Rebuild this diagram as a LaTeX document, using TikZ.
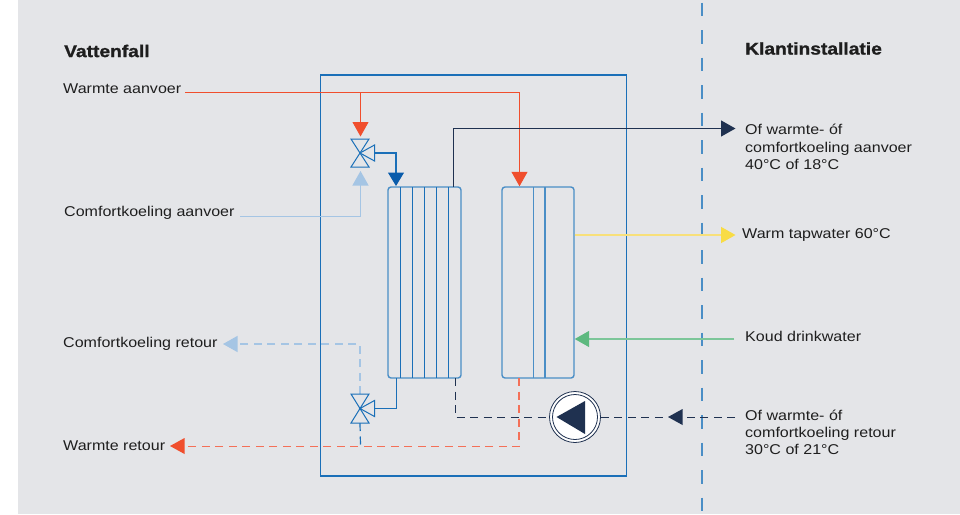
\documentclass[tikz,border=0pt]{standalone}
\usepackage{fontspec}
\setmainfont{Liberation Sans}
\newfontfamily\bodyfont[FakeStretch=1.13]{Liberation Sans}
\newfontfamily\headfont[FakeStretch=1.13,FakeBold=1.3]{Liberation Sans Bold}
\usetikzlibrary{arrows.meta}
\definecolor{bgc}{HTML}{E4E5E8}
\definecolor{vblue}{HTML}{1A6FB8}
\definecolor{hxblue}{HTML}{4A8EC6}
\definecolor{deepblue}{HTML}{0A5CAB}
\definecolor{lblue}{HTML}{A5C5E4}
\definecolor{vred}{HTML}{F04E2D}
\definecolor{dashred}{HTML}{F47058}
\definecolor{navy}{HTML}{1F3150}
\definecolor{vyellow}{HTML}{F8E07A}
\definecolor{tipyellow}{HTML}{F8DC45}
\definecolor{vgreen}{HTML}{7CC699}
\definecolor{tipgreen}{HTML}{5DB97F}
\definecolor{txt}{HTML}{1E1E1E}
\tikzset{
  x=1pt,y=-1pt,
  lab/.style={inner sep=0pt,anchor=west,align=left,text=txt,font=\bodyfont\fontsize{14.2}{17.2}\selectfont},
  head/.style={inner sep=0pt,anchor=west,text=txt,font=\headfont\fontsize{17}{20}\selectfont},
  conn/.style={line width=1.1pt},
  tip/.style={-{Triangle[length=14.5pt,width=16pt]}},
  dsh/.style={line width=1.2pt,dash pattern=on 8pt off 5.5pt},
  hx/.style={draw=hxblue,line width=1.4pt,rounded corners=3pt,minimum width=#1,inner sep=0pt,minimum height=191pt},
  valve/.style={draw=vblue,line width=1pt,fill=bgc,line join=miter},
}
\begin{document}
\begin{tikzpicture}
\useasboundingbox (0,0) rectangle (960,514);
\fill[bgc] (18,0) rectangle (960,514);
% cabinet
\node[draw=vblue,line width=1.1pt,inner sep=0pt,minimum width=306.5pt,minimum height=401pt] (kast) at (473.5,275.5) {};
% divider
\coordinate (divtop) at (702,2.5);
\coordinate (divbot) at (702,514);
\draw[hxblue,line width=1.5pt,dash pattern=on 13.5pt off 14pt] (divtop) -- (divbot);
% labels
\node[head] (vat) at (64,51) {Vattenfall};
\node[head] (klant) at (745,48.5) {Klantinstallatie};
\node[lab] (wa) at (63,89) {Warmte aanvoer};
\node[lab] (ca) at (64,213) {Comfortkoeling aanvoer};
\node[lab] (cr) at (63,344) {Comfortkoeling retour};
\node[lab] (wr) at (63,446) {Warmte retour};
\node[lab] (oa) at (745,147) {Of warmte- óf\\comfortkoeling aanvoer\\40°C of 18°C};
\node[lab] (tap) at (742,235) {Warm tapwater 60°C};
\node[lab] (koud) at (745,336) {Koud drinkwater};
\node[lab] (or) at (745,432.5) {Of warmte- óf\\comfortkoeling retour\\30°C of 21°C};
% heat exchangers
\node[hx=73pt] (hxl) at (424.5,282.5) {};
\node[hx=72pt] (hxr) at (538,282.5) {};
\foreach \xx in {400.5,412.5,424.5,436.5,448.5}
  \draw[vblue,line width=1pt] (\xx,187) -- (\xx,378);
\foreach \xx in {533.5,545}
  \draw[hxblue,line width=1.3pt] (\xx,187) -- (\xx,378);
% valve centres
\coordinate (v1) at (360,153);
\coordinate (v2) at (360,408.5);
\coordinate (v1r) at (374,153);
\coordinate (v2r) at (374,408.5);
\coordinate (v1t) at (360,139);
\coordinate (v1b) at (360,167);
\coordinate (v2t) at (360,394);
\coordinate (v2b) at (360,423);
% connectors
\coordinate (wastart) at (185,92.5);
\coordinate (junc) at (360.5,92.5);
\coordinate (hxrin) at (519.5,92.5);
\coordinate (v1in) at (360.5,136.5);
\draw[vred,line width=1pt,tip] (wastart) -- (hxrin) -- (hxrin |- hxr.north);
\draw[vred,line width=1pt,tip] (junc) -- (v1in);
\coordinate (castart) at (240,216.5);
\coordinate (v1inb) at (360.5,171);
\draw[lblue,line width=1.2pt,tip] (castart) -| (v1inb);
\draw[vblue,line width=1.1pt,-{Triangle[length=13.5pt,width=16pt,fill=deepblue,color=deepblue]}] (v1r) -| (396,186);
\coordinate (hxlout) at (453.5,187);
\coordinate (oatip) at (735.5,128.5);
\draw[navy,conn,tip] (hxlout) |- (oatip);
\coordinate (taptip) at (735.5,235);
\draw[vyellow,line width=1.5pt,-{Triangle[length=14.5pt,width=16pt,fill=tipyellow,color=tipyellow]}] (hxr.east |- taptip) -- (taptip);
\coordinate (koudstart) at (734,339);
\draw[vgreen,line width=1.5pt,-{Triangle[length=14.5pt,width=16pt,fill=tipgreen,color=tipgreen]}] (koudstart) -- (hxr.east |- koudstart);
\draw[vblue,conn] (v2r) -| (396.5,378);
% dashed
\coordinate (crtip) at (223,344);
\draw[lblue,dsh,tip] (v2t) |- (crtip);
\coordinate (wrtip) at (170,446);
\coordinate (rcorner) at (519,446.5);
\draw[dashred,dsh] (519,378) -- (rcorner) -- (184,446.5);
\fill[vred] (wrtip) -- (184.5,438) -- (184.5,454) -- cycle;
\draw[vblue,dsh] (v2b) -- (360.5,446);
% pump
\node[circle,draw=navy,line width=0.8pt,fill=white,minimum size=51pt,inner sep=0pt] (pomp) at (575,417) {};
\node[circle,draw=navy,line width=0.8pt,fill=white,minimum size=45pt,inner sep=0pt] at (pomp) {};
\fill[navy] (556.5,417) -- (585,401) -- (585,434) -- cycle;
\coordinate (pijl) at (668,417.5);
\coordinate (rstart) at (735,417.5);
\draw[navy,dsh] (455.5,378) |- (pomp.west |- pijl);
\draw[navy,dsh] (pomp.east |- pijl) -- (pijl);
\draw[navy,dsh] (rstart) -- (682,417.5);
\fill[navy] (668,417) -- (682.5,409) -- (682.5,425) -- cycle;
% valves
\foreach \c/\d in {153/14,408.5/14.5}{
  \draw[valve] (351,\c-\d) -- (369,\c-\d) -- (360,\c) -- cycle;
  \draw[valve] (351,\c+\d) -- (369,\c+\d) -- (360,\c) -- cycle;
  \draw[valve] (360,\c) -- (374.5,\c-8) -- (374.5,\c+8) -- cycle;
}
\end{tikzpicture}
\end{document}
